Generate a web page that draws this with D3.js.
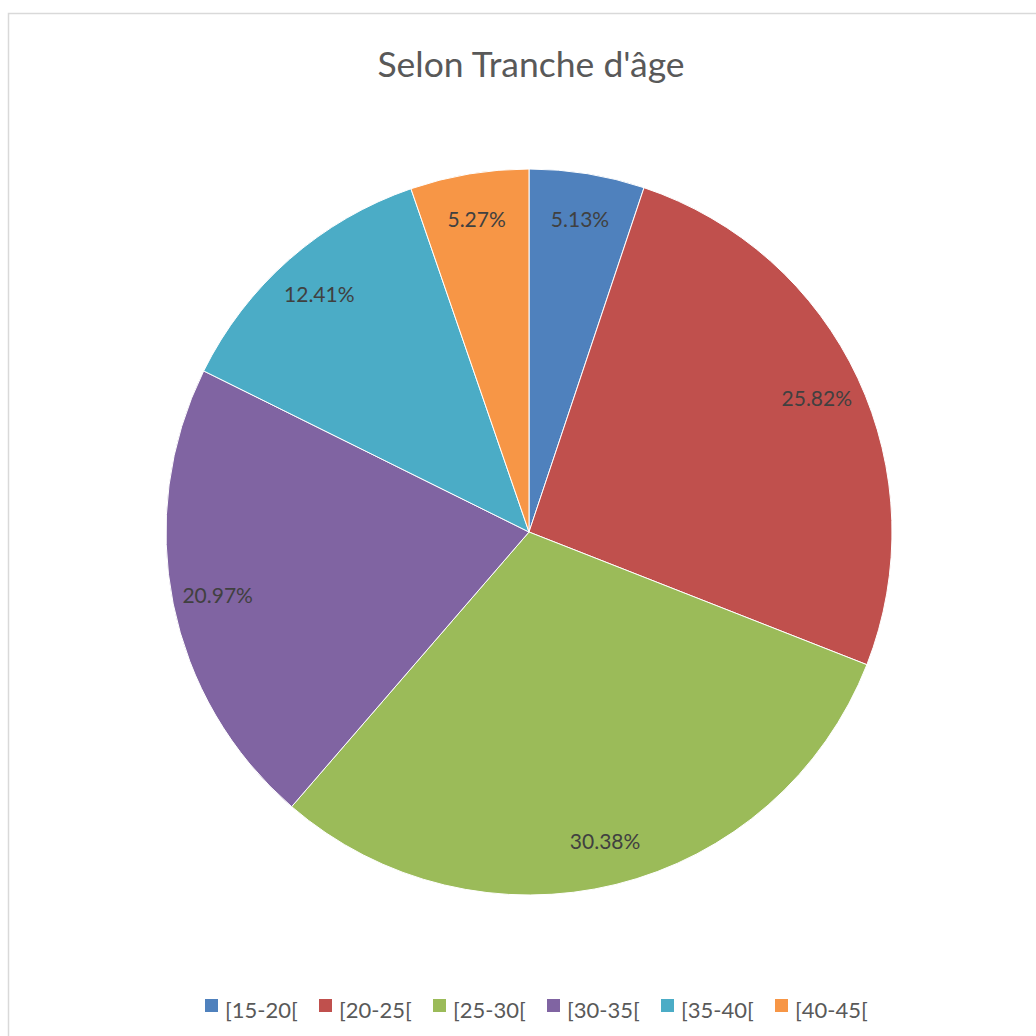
<!DOCTYPE html>
<html>
<head>
<meta charset="utf-8">
<script src="https://cdn.jsdelivr.net/npm/d3@7"></script>
<style>
  body { margin: 0; background: #fff; }
</style>
</head>
<body>
<div id="chartContainer"></div>
<script>
var categories = ["[15-20[", "[20-25[", "[25-30[", "[30-35[", "[35-40[", "[40-45["];
var values = [5.13, 25.82, 30.38, 20.97, 12.41, 5.27];
var colors = ["#4F81BD", "#C0504D", "#9BBB59", "#8064A2", "#4BACC6", "#F79646"];
var title = "Selon Tranche d'âge";

var W = 1036, H = 1036;
var cx = 529, cy = 532, R = 363;

var svg = d3.select("#chartContainer").append("svg")
            .attr("width", W).attr("height", H);

// chart area frame
svg.append("rect").attr("x", 8.5).attr("y", 13.5)
   .attr("width", W + 20).attr("height", H + 20)
   .style("fill", "#fff").style("stroke", "#d9d9d9").style("stroke-width", 1.5);

// title
svg.append("text").attr("x", 531).attr("y", 77)
   .attr("text-anchor", "middle")
   .style("font-family", "Lato, 'Open Sans', sans-serif")
   .style("font-size", "35.5px").style("fill", "#595959")
   .text(title);

//PIE
var pie = d3.pie().sort(null).value(function(d){ return d; });
var arcs = pie(values);
var arc = d3.arc().innerRadius(0).outerRadius(R);
var labelArc = d3.arc().innerRadius(R * 0.875).outerRadius(R * 0.875);

var g = svg.append("g").attr("transform", "translate(" + cx + "," + cy + ")");

g.selectAll("path.slice").data(arcs).enter().append("path")
 .attr("class", "slice")
 .attr("d", arc)
 .style("fill", function(d, i){ return colors[i]; })
 .style("stroke", "#fff").style("stroke-width", 1);

g.selectAll("text.lbl").data(arcs).enter().append("text")
 .attr("class", "lbl")
 .attr("transform", function(d){ return "translate(" + labelArc.centroid(d) + ")"; })
 .attr("text-anchor", "middle").attr("dy", "0.4em")
 .style("font-family", "Lato, 'Open Sans', sans-serif")
 .style("font-size", "21px").style("fill", "#404040")
 .text(function(d){ return d.value.toFixed(2) + "%"; });

//LEGEND
var legendX = d3.scaleBand().domain(categories).range([205, 889]);
var leg = svg.append("g").selectAll("g").data(categories).enter().append("g")
             .attr("transform", function(d){ return "translate(" + legendX(d) + ",0)"; });
leg.append("rect").attr("x", 0).attr("y", 999).attr("width", 13).attr("height", 13)
   .style("fill", function(d, i){ return colors[i]; });
leg.append("text").attr("x", 20).attr("y", 1018)
   .style("font-family", "Lato, 'Open Sans', sans-serif")
   .style("font-size", "22px").style("fill", "#595959")
   .text(function(d){ return d; });
</script>
</body>
</html>
